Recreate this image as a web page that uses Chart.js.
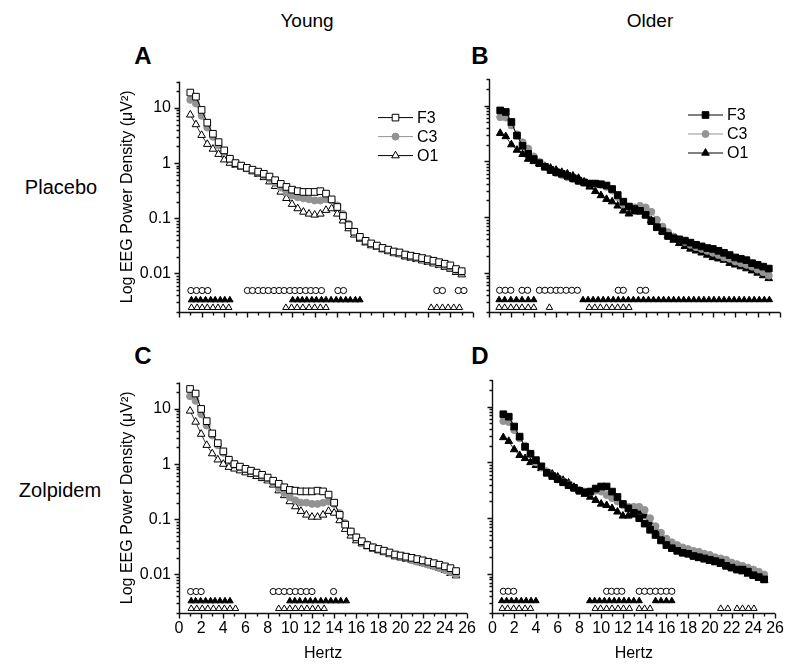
<!DOCTYPE html>
<html>
<head>
<meta charset="utf-8">
<script src="https://cdn.jsdelivr.net/npm/chart.js@4.4.1/dist/chart.umd.min.js"></script>
<style>
  body { margin: 0; background: #fff; font-family: "Liberation Sans", Arial, sans-serif; }
  #fig { position: relative; width: 800px; height: 670px; }
  canvas { position: absolute; }
  .t { position: absolute; transform: translate(-50%, -50%); white-space: nowrap; color: #000; }
  .head { font-size: 19px; }
  .row { font-size: 20px; }
  .tag { font-size: 24px; font-weight: bold; }
</style>
</head>
<body>
<div id="fig">
  <div class="t head" style="left:307px;top:21px">Young</div>
  <div class="t head" style="left:650px;top:21px">Older</div>
  <div class="t tag" style="left:143px;top:56px">A</div>
  <div class="t tag" style="left:480px;top:56px">B</div>
  <div class="t tag" style="left:143px;top:356px">C</div>
  <div class="t tag" style="left:480px;top:356px">D</div>
  <div class="t row" style="left:61px;top:187px">Placebo</div>
  <div class="t row" style="left:60px;top:490px">Zolpidem</div>
  <canvas id="pA" width="382" height="272" style="left:100px;top:64px"></canvas>
  <canvas id="pB" width="308" height="272" style="left:482px;top:64px"></canvas>
  <canvas id="pC" width="382" height="301" style="left:100px;top:365px"></canvas>
  <canvas id="pD" width="308" height="301" style="left:482px;top:365px"></canvas>
</div>
<script>
// frequency bins (Hz)
const hertz = [1, 1.5, 2, 2.5, 3, 3.5, 4, 4.5, 5, 5.5, 6, 6.5, 7, 7.5, 8, 8.5, 9, 9.5, 10, 10.5,
  11, 11.5, 12, 12.5, 13, 13.5, 14, 14.5, 15, 15.5, 16, 16.5, 17, 17.5, 18, 18.5, 19, 19.5, 20, 20.5,
  21, 21.5, 22, 22.5, 23, 23.5, 24, 24.5, 25];
const channels = ['F3', 'C3', 'O1'];
const hertzTicks = [0, 2, 4, 6, 8, 10, 12, 14, 16, 18, 20, 22, 24, 26];
const powerTicks = [0.01, 0.1, 1, 10];

// A: young, placebo
const youngPlaceboF3 = [19, 16, 9.2, 5.4, 3.4, 2.4, 1.7, 1.2, 1.0, 0.9, 0.82, 0.76, 0.7, 0.64, 0.57, 0.49, 0.42, 0.37, 0.33, 0.31,
  0.3, 0.3, 0.3, 0.31, 0.28, 0.22, 0.16, 0.11, 0.075, 0.057, 0.046, 0.039, 0.035, 0.032, 0.029, 0.027, 0.025, 0.024, 0.022, 0.021,
  0.02, 0.019, 0.018, 0.017, 0.016, 0.015, 0.014, 0.012, 0.011];
const youngPlaceboC3 = [14, 12, 7.2, 4.4, 3.0, 2.1, 1.6, 1.2, 0.97, 0.88, 0.8, 0.73, 0.67, 0.6, 0.52, 0.43, 0.36, 0.3, 0.26, 0.24,
  0.23, 0.22, 0.21, 0.21, 0.22, 0.21, 0.17, 0.12, 0.08, 0.057, 0.045, 0.038, 0.034, 0.031, 0.028, 0.026, 0.024, 0.023, 0.021, 0.02,
  0.019, 0.018, 0.017, 0.016, 0.015, 0.014, 0.013, 0.0115, 0.0105];
const youngPlaceboO1 = [7.5, 5, 3.2, 2.2, 1.8, 1.45, 1.15, 1.0, 0.92, 0.85, 0.78, 0.7, 0.63, 0.55, 0.46, 0.38, 0.3, 0.23, 0.18, 0.15,
  0.13, 0.12, 0.115, 0.12, 0.14, 0.15, 0.12, 0.09, 0.065, 0.05, 0.042, 0.036, 0.032, 0.03, 0.027, 0.025, 0.023, 0.022, 0.02, 0.019,
  0.018, 0.017, 0.016, 0.015, 0.014, 0.013, 0.012, 0.0105, 0.0095];

// B: older, placebo
const olderPlaceboF3 = [8.2, 7.7, 5.1, 2.9, 1.9, 1.37, 1.1, 0.93, 0.8, 0.7, 0.64, 0.6, 0.55, 0.5, 0.45, 0.42, 0.4, 0.4, 0.39, 0.37,
  0.32, 0.25, 0.19, 0.155, 0.14, 0.13, 0.11, 0.085, 0.066, 0.056, 0.046, 0.042, 0.04, 0.038, 0.035, 0.032, 0.03, 0.028, 0.027, 0.025,
  0.023, 0.021, 0.019, 0.018, 0.017, 0.015, 0.014, 0.013, 0.012];
const olderPlaceboC3 = [6.2, 6.1, 4.4, 3.05, 2.2, 1.7, 1.23, 0.98, 0.82, 0.7, 0.62, 0.57, 0.52, 0.48, 0.44, 0.41, 0.4, 0.4, 0.38, 0.35,
  0.3, 0.23, 0.17, 0.155, 0.15, 0.16, 0.15, 0.125, 0.09, 0.068, 0.054, 0.045, 0.04, 0.036, 0.032, 0.029, 0.027, 0.025, 0.023, 0.021,
  0.019, 0.018, 0.016, 0.015, 0.014, 0.013, 0.0115, 0.0103, 0.009];
const olderPlaceboO1 = [3.2, 2.8, 2.0, 1.6, 1.34, 1.1, 1.0, 0.92, 0.82, 0.76, 0.7, 0.64, 0.6, 0.55, 0.5, 0.43, 0.35, 0.29, 0.245, 0.21,
  0.19, 0.16, 0.13, 0.115, 0.125, 0.13, 0.11, 0.088, 0.07, 0.056, 0.047, 0.039, 0.034, 0.03, 0.027, 0.025, 0.023, 0.021, 0.019, 0.018,
  0.017, 0.015, 0.014, 0.013, 0.012, 0.011, 0.01, 0.009, 0.008];

// C: young, zolpidem
const youngZolpidemF3 = [23, 19, 10, 6, 3.6, 2.4, 1.7, 1.2, 1.0, 0.9, 0.82, 0.76, 0.7, 0.64, 0.57, 0.5, 0.44, 0.38, 0.34, 0.33,
  0.32, 0.32, 0.32, 0.33, 0.32, 0.28, 0.2, 0.12, 0.08, 0.06, 0.047, 0.04, 0.034, 0.031, 0.029, 0.027, 0.025, 0.023, 0.022, 0.021,
  0.02, 0.019, 0.018, 0.017, 0.016, 0.015, 0.014, 0.013, 0.0115];
const youngZolpidemC3 = [17, 14, 8, 5, 3.3, 2.2, 1.6, 1.2, 0.97, 0.88, 0.8, 0.74, 0.68, 0.61, 0.53, 0.45, 0.37, 0.3, 0.25, 0.22,
  0.2, 0.2, 0.19, 0.19, 0.2, 0.21, 0.19, 0.13, 0.085, 0.06, 0.047, 0.04, 0.035, 0.031, 0.028, 0.026, 0.024, 0.022, 0.021, 0.02,
  0.018, 0.017, 0.016, 0.015, 0.014, 0.013, 0.012, 0.011, 0.01];
const youngZolpidemO1 = [9.2, 5.8, 3.5, 2.2, 1.55, 1.2, 1.0, 0.88, 0.82, 0.76, 0.7, 0.65, 0.6, 0.55, 0.5, 0.42, 0.33, 0.27, 0.21, 0.17,
  0.14, 0.12, 0.11, 0.11, 0.12, 0.14, 0.13, 0.095, 0.066, 0.05, 0.041, 0.036, 0.032, 0.029, 0.027, 0.025, 0.023, 0.021, 0.02, 0.019,
  0.018, 0.017, 0.016, 0.015, 0.014, 0.013, 0.012, 0.0105, 0.0095];

// D: older, zolpidem
const olderZolpidemF3 = [7.3, 6.6, 4.4, 2.9, 1.9, 1.43, 1.1, 0.85, 0.65, 0.57, 0.5, 0.44, 0.39, 0.35, 0.31, 0.29, 0.3, 0.34, 0.37, 0.37,
  0.3, 0.24, 0.18, 0.15, 0.125, 0.1, 0.08, 0.062, 0.05, 0.04, 0.033, 0.029, 0.026, 0.024, 0.023, 0.021, 0.02, 0.019, 0.018, 0.017,
  0.016, 0.014, 0.013, 0.012, 0.012, 0.011, 0.0095, 0.0088, 0.008];
const olderZolpidemC3 = [5.5, 5.3, 3.8, 2.7, 2.0, 1.43, 1.0, 0.82, 0.68, 0.58, 0.5, 0.45, 0.4, 0.35, 0.32, 0.3, 0.3, 0.31, 0.3, 0.26,
  0.23, 0.2, 0.17, 0.16, 0.16, 0.16, 0.14, 0.1, 0.072, 0.055, 0.043, 0.037, 0.033, 0.03, 0.028, 0.026, 0.025, 0.023, 0.022, 0.02,
  0.019, 0.018, 0.016, 0.015, 0.014, 0.013, 0.012, 0.011, 0.0098];
const olderZolpidemO1 = [2.8, 2.4, 1.7, 1.34, 1.18, 1.0, 0.89, 0.78, 0.67, 0.62, 0.55, 0.48, 0.43, 0.36, 0.31, 0.27, 0.24, 0.21, 0.18, 0.17,
  0.15, 0.13, 0.11, 0.11, 0.115, 0.13, 0.11, 0.08, 0.06, 0.048, 0.038, 0.032, 0.028, 0.025, 0.023, 0.021, 0.019, 0.018, 0.017, 0.016,
  0.015, 0.014, 0.013, 0.012, 0.011, 0.01, 0.0093, 0.0085, 0.0077];

// significance rows (Hz where marked): open circles, filled triangles, open triangles
const youngPlaceboSigCircle = [1.05, 1.55, 2.05, 2.55, 6.05, 6.5, 7.0, 7.45, 7.9, 8.4, 8.85, 9.3, 9.8, 10.25, 10.7, 11.2, 11.65, 12.1, 12.6,
  14.05, 14.55, 22.8, 23.3, 24.7, 25.2];
const youngPlaceboSigFilled = [1.1, 1.5, 1.9, 2.35, 2.8, 3.2, 3.65, 4.05, 4.5,
  10.05, 10.5, 10.9, 11.3, 11.75, 12.15, 12.6, 13.0, 13.45, 13.9, 14.3, 14.75, 15.15, 15.6, 16.0];
const youngPlaceboSigOpen = [1.1, 1.6, 2.05, 2.5, 3.0, 3.45, 3.9, 4.4, 9.45, 9.95, 10.45, 10.95, 11.5, 12.0, 12.5, 13.0,
  22.3, 22.8, 23.3, 23.8, 24.3, 24.8];

const olderPlaceboSigCircle = [0.95, 1.45, 1.95, 2.95, 3.45, 4.5, 5.0, 5.5, 6.0, 6.4, 6.9, 7.4, 7.9, 11.55, 12.0, 13.5, 14.0];
const olderPlaceboSigFilled = [0.9, 1.4, 1.95, 2.45, 2.95, 3.5, 4.0,
  8.4, 8.85, 9.3, 9.75, 10.2, 10.65, 11.1, 11.55, 12.0, 12.45, 12.9, 13.35, 13.8, 14.25, 14.7, 15.15, 15.6, 16.05, 16.5,
  16.95, 17.4, 17.85, 18.3, 18.75, 19.2, 19.65, 20.1, 20.55, 21.0, 21.45, 21.9, 22.35, 22.8, 23.25, 23.7, 24.15, 24.6, 25.05];
const olderPlaceboSigOpen = [0.9, 1.4, 1.95, 2.45, 2.95, 3.5, 4.0, 5.4, 8.95, 9.45, 9.95, 10.5, 11.0, 11.5, 12.0, 12.5];

const youngZolpidemSigCircle = [1.05, 1.55, 2.0, 8.5, 9.0, 9.5, 10.0, 10.5, 11.0, 11.5, 12.0, 13.95];
const youngZolpidemSigFilled = [1.1, 1.5, 1.95, 2.4, 2.85, 3.25, 3.7, 4.15, 4.6,
  10.0, 10.45, 10.9, 11.4, 11.85, 12.3, 12.8, 13.25, 13.7, 14.15, 14.6, 15.1];
const youngZolpidemSigOpen = [1.1, 1.6, 2.1, 2.6, 3.1, 3.6, 4.1, 4.6, 5.1, 9.0, 9.5, 10.0, 10.5, 11.05, 11.55, 12.05, 12.55, 13.1];

const olderZolpidemSigCircle = [1.0, 1.45, 1.95, 10.5, 10.95, 11.45, 11.9, 13.5, 14.0, 14.5, 15.0, 15.5, 16.0, 16.5];
const olderZolpidemSigFilled = [0.85, 1.3, 1.75, 2.2, 2.65, 3.1, 3.55, 4.0,
  8.95, 9.4, 9.85, 10.3, 10.75, 11.2, 11.65, 12.1, 12.55, 13.0, 13.5, 15.0, 15.5, 16.0, 16.5];
const olderZolpidemSigOpen = [0.9, 1.4, 1.95, 2.45, 3.0, 3.5, 9.45, 9.95, 10.5, 11.0, 11.55, 12.05, 12.6,
  13.5, 14.0, 14.5, 21.0, 21.65, 22.5, 23.0, 23.55, 24.05];

const FONT = '"Liberation Sans", Arial, sans-serif';
const GREY = '#939393';
Chart.defaults.font.family = FONT;
Chart.defaults.color = '#000';

// axis lines plus major / minor tick marks, pointing outward
const axisMarks = {
  id: 'axisMarks',
  afterDraw(chart) {
    const { ctx, chartArea: a } = chart;
    const xs = chart.scales.x, ys = chart.scales.y;
    const ax = Math.round(a.left) + 0.5, ay = Math.round(a.bottom) + 0.5;
    ctx.save();
    ctx.strokeStyle = '#111';
    ctx.lineWidth = 1.4;
    ctx.beginPath();
    ctx.moveTo(ax, a.top); ctx.lineTo(ax, ay); ctx.lineTo(a.right, ay);
    for (let v = 0; v <= 26; v++) {
      const px = Math.round(xs.getPixelForValue(v)) + 0.5;
      ctx.moveTo(px, ay); ctx.lineTo(px, ay + (v % 2 ? 3 : 5));
    }
    for (const e of [-3, -2, -1, 0, 1]) {
      for (let k = 1; k < 10; k++) {
        const v = k * Math.pow(10, e);
        if (v < ys.min || v > ys.max) continue;
        const py = Math.round(ys.getPixelForValue(v)) + 0.5;
        ctx.moveTo(ax, py); ctx.lineTo(ax - (k === 1 ? 5 : 3), py);
      }
    }
    ctx.stroke();
    ctx.restore();
  }
};

// line + marker key in the upper right
const keyBox = {
  id: 'keyBox',
  afterDraw(chart, args, opts) {
    if (!opts.show) return;
    const { ctx, chartArea: a } = chart;
    ctx.save();
    ctx.font = '16px ' + FONT;
    ctx.textBaseline = 'middle';
    chart.data.datasets.slice(0, 3).forEach((ds, i) => {
      const x0 = a.left + 199, y0 = a.top + 36 + i * 19;
      ctx.strokeStyle = ds.borderColor;
      ctx.lineWidth = 1;
      ctx.beginPath(); ctx.moveTo(x0, y0); ctx.lineTo(x0 + 35, y0); ctx.stroke();
      ctx.fillStyle = ds.pointBackgroundColor;
      ctx.strokeStyle = ds.pointBorderColor;
      Chart.helpers.drawPoint(ctx, { pointStyle: ds.pointStyle, radius: ds.pointRadius, borderWidth: 1, rotation: 0 }, x0 + 17.5, y0);
      ctx.fillStyle = '#000';
      ctx.fillText(ds.label, x0 + 39, y0 + 1);
    });
    ctx.restore();
  }
};

function panel(id, series, sig, opt) {
  const pts = vals => hertz.map((h, i) => ({ x: h, y: vals[i] }));
  const row = (xs, level) => xs.map(h => ({ x: h, y: level }));
  const fill = opt.filled ? '#000' : '#fff';
  const styles = [
    { borderColor: '#000', borderWidth: 1, pointStyle: 'rect', pointRadius: 4.7, pointBackgroundColor: fill, pointBorderColor: '#000' },
    { borderColor: GREY, borderWidth: 1, pointStyle: 'circle', pointRadius: 3.5, pointBackgroundColor: GREY, pointBorderColor: GREY },
    { borderColor: '#000', borderWidth: 0.8, pointStyle: 'triangle', pointRadius: 4.4, pointBackgroundColor: fill, pointBorderColor: '#000' }
  ];
  const datasets = channels.map((name, i) => Object.assign({
    label: name, data: pts(series[i]), pointBorderWidth: 1, clip: false
  }, styles[i]));
  const sigStyle = [
    { level: 0.0049, pointStyle: 'circle', pointRadius: 3.1, pointBackgroundColor: '#fff' },
    { level: 0.0033, pointStyle: 'triangle', pointRadius: 3.7, pointBackgroundColor: '#000' },
    { level: 0.0024, pointStyle: 'triangle', pointRadius: 3.7, pointBackgroundColor: '#fff' }
  ];
  sig.forEach((xs, i) => {
    const s = sigStyle[i];
    datasets.push({
      label: 'sig' + i, data: row(xs, s.level), showLine: false, clip: false,
      pointStyle: s.pointStyle, pointRadius: s.pointRadius, pointBackgroundColor: s.pointBackgroundColor,
      pointBorderColor: '#000', pointBorderWidth: 1
    });
  });

  new Chart(document.getElementById(id), {
    type: 'line',
    data: { datasets },
    plugins: [axisMarks, keyBox],
    options: {
      responsive: false,
      animation: false,
      events: [],
      devicePixelRatio: 1,
      layout: { padding: { top: 15, right: opt.padRight, left: 0, bottom: 0 } },
      plugins: { legend: { display: false }, tooltip: { enabled: false }, keyBox: { show: opt.key } },
      scales: {
        x: {
          type: 'linear', min: 0, max: 26,
          grid: { display: false, drawTicks: false },
          border: { display: false },
          afterBuildTicks: s => { s.ticks = hertzTicks.map(v => ({ value: v })); },
          afterFit: s => { s.height = opt.xHeight; },
          ticks: { display: opt.xLabels, autoSkip: false, maxRotation: 0, padding: 6, font: { size: 16 }, callback: v => String(v) },
          title: { display: opt.xLabels, text: 'Hertz', font: { size: 16 }, padding: { top: 0, bottom: 3 } }
        },
        y: {
          type: 'logarithmic', min: 0.002, max: 30,
          grid: { display: false, drawTicks: false },
          border: { display: false },
          afterBuildTicks: s => { s.ticks = powerTicks.map(v => ({ value: v })); },
          afterFit: s => { s.width = opt.yWidth; },
          ticks: { display: opt.yLabels, autoSkip: false, padding: 8, font: { size: 16 }, callback: v => String(v) },
          title: { display: opt.yLabels, text: 'Log EEG Power Density (\u03bcV\u00b2)', font: { size: 16 }, padding: { top: 18, bottom: 0 } }
        }
      }
    }
  });
}

panel('pA', [youngPlaceboF3, youngPlaceboC3, youngPlaceboO1],
  [youngPlaceboSigCircle, youngPlaceboSigFilled, youngPlaceboSigOpen],
  { filled: false, key: true, yLabels: true, xLabels: false, yWidth: 79, xHeight: 24, padRight: 9 });
panel('pB', [olderPlaceboF3, olderPlaceboC3, olderPlaceboO1],
  [olderPlaceboSigCircle, olderPlaceboSigFilled, olderPlaceboSigOpen],
  { filled: true, key: true, yLabels: false, xLabels: false, yWidth: 7, xHeight: 24, padRight: 10 });
panel('pC', [youngZolpidemF3, youngZolpidemC3, youngZolpidemO1],
  [youngZolpidemSigCircle, youngZolpidemSigFilled, youngZolpidemSigOpen],
  { filled: false, key: false, yLabels: true, xLabels: true, yWidth: 79, xHeight: 53, padRight: 9 });
panel('pD', [olderZolpidemF3, olderZolpidemC3, olderZolpidemO1],
  [olderZolpidemSigCircle, olderZolpidemSigFilled, olderZolpidemSigOpen],
  { filled: true, key: false, yLabels: false, xLabels: true, yWidth: 7, xHeight: 53, padRight: 10 });
</script>
</body>
</html>
